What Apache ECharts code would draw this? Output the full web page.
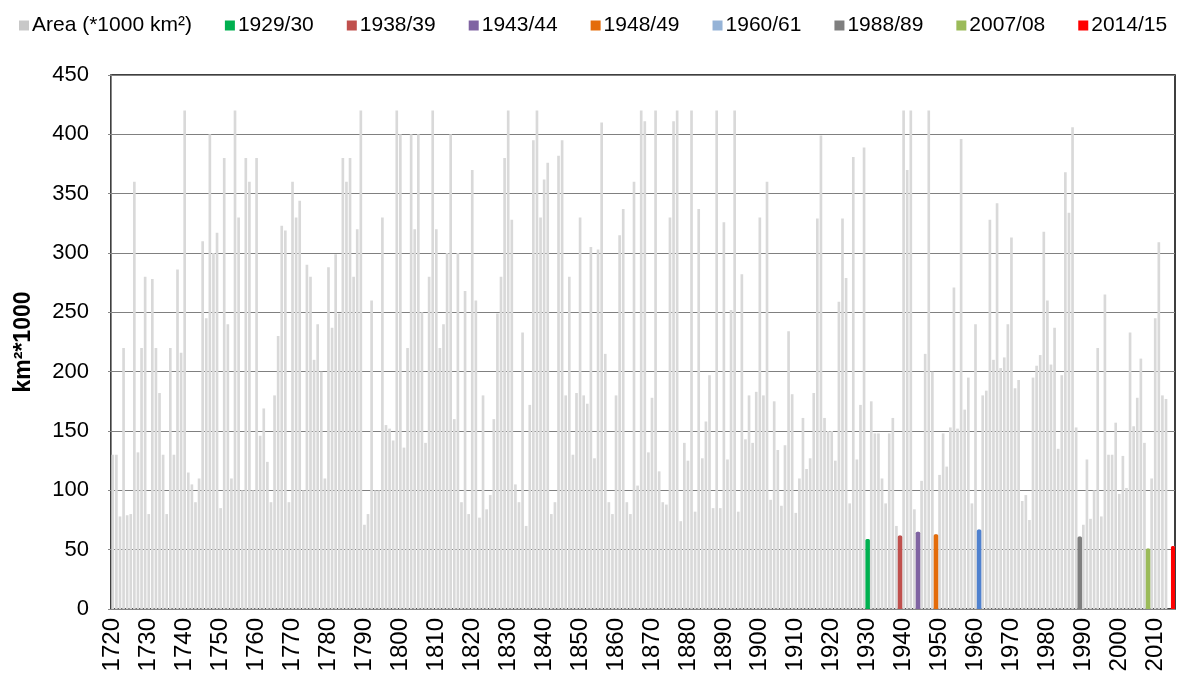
<!DOCTYPE html>
<html>
<head>
<meta charset="utf-8">
<script src="https://cdn.jsdelivr.net/npm/echarts@6/dist/echarts.min.js"></script>
<style>html,body{margin:0;padding:0;background:#fff}#c{width:1193px;height:684px}</style>
</head>
<body>
<div id="c"></div>
<script>
// Winters, labelled by the year in which they end (1719/20 -> 1720 ... 2014/15 -> 2015)
const firstYear = 1720;
const area = [
 130,130,78,220,79,80,360,132,220,280,
 80,278,220,182,130,80,220,130,286,216,
 420,115,105,90,110,310,245,400,300,317,
 85,380,240,110,420,330,100,380,360,100,
 380,146,169,124,90,180,230,323,319,90,
 360,330,344,100,290,280,210,240,200,110,
 288,237,299,249,380,360,380,280,320,420,
 71,80,260,100,100,330,155,152,142,420,
 400,136,220,400,320,400,250,140,280,420,
 320,220,240,300,400,160,300,90,268,80,
 370,260,77,180,84,96,160,249,280,380,
 420,328,105,90,233,70,172,395,420,330,
 362,376,80,90,382,395,180,280,130,182,
 330,180,173,305,127,303,410,215,90,80,
 180,315,337,90,80,360,104,420,411,132,
 178,420,116,90,88,330,411,420,74,140,
 125,420,82,337,127,158,197,85,420,85,
 326,126,252,420,82,282,143,180,140,183,
 330,180,360,92,175,134,87,138,234,181,
 81,110,161,118,127,182,329,399,161,150,
 150,125,259,329,279,89,381,126,172,389,
 59,175,148,148,110,89,148,161,70,62,
 420,370,420,84,65,108,215,420,200,63,
 113,148,120,153,271,152,396,168,195,89,
 240,67,180,184,328,210,342,203,212,240,
 313,186,193,91,96,75,195,205,214,318,
 260,206,237,135,197,368,334,406,153,61,
 71,126,76,100,220,78,265,130,130,157,
 97,129,102,233,154,178,211,140,51,110,
 245,309,180,177,null,53
];
const years = area.map((v, i) => String(firstYear + i));
const yTicks = [0, 50, 100, 150, 200, 250, 300, 350, 400, 450];

// highlighted winters
const hlNames  = ['1929/30','1938/39','1943/44','1948/49','1960/61','1988/89','2007/08','2014/15'];
const hlYears  = [1930, 1939, 1944, 1949, 1961, 1989, 2008, 2015];
const hlValues = [59, 62, 65, 63, 67, 61, 51, 53];
const hlColors = ['#00b050','#c0504d','#8064a2','#e46c0a','#4f81cf','#7f7f7f','#9bbb59','#ff0000'];
const hlLegend = ['#00b050','#c0504d','#8064a2','#e46c0a','#95b3d7','#7f7f7f','#9bbb59','#ff0000'];

const FONT = '"Liberation Sans", Arial, sans-serif';
const isDecade = (i, v) => Number(v) % 10 === 0;

const hlSeries = hlNames.map((n, j) => ({
  name: n, type: 'bar', xAxisIndex: 1, yAxisIndex: 0,
  barWidth: 4.5, barGap: '-100%',
  itemStyle: { color: hlColors[j], borderRadius: [1.5,1.5,0,0] },
  data: years.map(y => Number(y) === hlYears[j] ? hlValues[j] : null),
  z: 3
}));

const chart = echarts.init(document.getElementById('c'), null, { renderer: 'canvas' });
chart.setOption({
  animation: false,
  textStyle: { fontFamily: FONT },
  legend: {
    top: 10, left: 14, itemWidth: 10, itemHeight: 10, itemGap: 33,
    icon: 'rect',
    textStyle: { fontSize: 21, color: '#000', fontFamily: FONT, padding: [0,0,0,-2] },
    data: [{ name: 'Area (*1000 km²)', itemStyle: { color: '#c8c8c8' },
             textStyle: { fontSize: 21, color: '#000', fontFamily: FONT, padding: [0,9,0,-2] } }]
      .concat(hlNames.map((n, j) => ({ name: n, itemStyle: { color: hlLegend[j] } })))
  },
  grid: { left: 111, right: 18, top: 75, bottom: 75, show: true, borderColor: '#000', borderWidth: 1.5, containLabel: false },
  xAxis: [{
    type: 'category', data: years, boundaryGap: true,
    axisLine: { lineStyle: { color: '#868686' } },
    axisTick: { interval: isDecade, length: 6, lineStyle: { color: '#868686' } },
    axisLabel: { interval: isDecade, rotate: 90, fontSize: 24, color: '#000', margin: 9, fontFamily: FONT },
    splitLine: { show: false }
  }, {
    type: 'category', data: years, boundaryGap: true, show: false
  }],
  yAxis: [{
    type: 'value', min: 0, max: 450, interval: 50,
    name: 'km²*1000', nameLocation: 'middle', nameGap: 76, nameRotate: 90,
    nameTextStyle: { fontSize: 23, fontWeight: 'bold', color: '#000', fontFamily: FONT },
    axisLine: { show: true, lineStyle: { color: '#868686' } },
    axisTick: { show: true, length: 3, lineStyle: { color: '#868686' } },
    axisLabel: { fontSize: 22, color: '#000', margin: 22, fontFamily: FONT,
      formatter: v => yTicks.includes(v) ? String(v) : '' },
    splitLine: { lineStyle: { color: '#808080', width: 1 } }
  }],
  series: [{
    name: 'Area (*1000 km²)', type: 'bar', xAxisIndex: 0, barWidth: '74%',
    itemStyle: { color: '#d9d9d9' }, data: area, z: 2
  }].concat(hlSeries)
});
</script>
</body>
</html>
